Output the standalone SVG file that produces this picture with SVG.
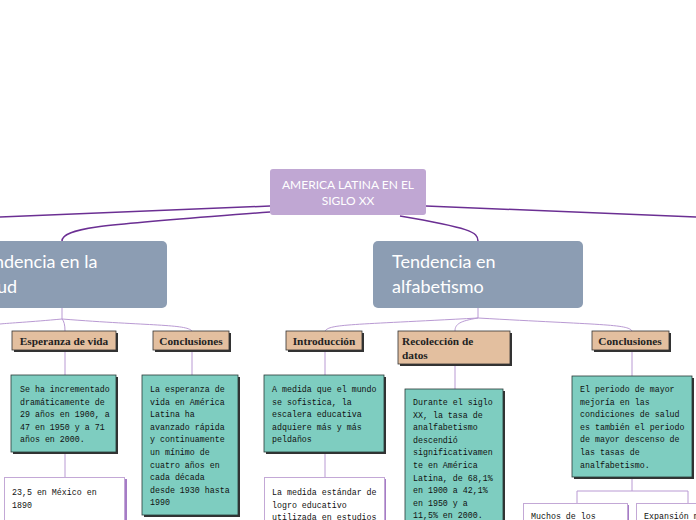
<svg xmlns="http://www.w3.org/2000/svg" width="696" height="520" viewBox="0 0 696 520">
<style>
.main{fill:#8c9db3}
.mt{font-family:Lato,"Open Sans",sans-serif;font-size:18px;fill:#ffffff}
.rt{font-family:Lato,"Open Sans",sans-serif;font-size:12px;fill:#ffffff}
.tan{fill:#e3bf9f;stroke:#333;stroke-width:0.8}
.tt{font-family:"Liberation Serif",serif;font-weight:bold;font-size:11.3px;fill:#222}
.teal{fill:#7ecdc0;stroke:#2a3a37;stroke-width:0.8}
.wh{fill:#ffffff;stroke:#c3a8d6;stroke-width:1}
.sh{fill:#333}
.whs{fill:#a57cc6}
.mono{font-family:"Liberation Mono","DejaVu Sans Mono",monospace;font-size:8.3px;fill:#111}
.c1{fill:none;stroke:#6b2f93;stroke-width:1.5}
.c2{fill:none;stroke:#b99ad3;stroke-width:1}
</style>
<g id="connectors">
<path class="c1" d="M270,206 L0,217"/>
<path class="c1" d="M270,212 C120,224 62,226 62,241"/>
<path class="c1" d="M426,206 L696,217"/>
<path class="c1" d="M400,216 C470,228 478,232 478,241"/>
<path class="c2" d="M62,308 V319"/>
<path class="c2" d="M62,319 C30,322 10,323 0,324"/>
<path class="c2" d="M62,319 Q65,322 65,331"/>
<path class="c2" d="M62,319 C150,326 186,324 192,331"/>
<path class="c2" d="M478,308 V318"/>
<path class="c2" d="M478,318 C350,325 330,324 325,331"/>
<path class="c2" d="M478,318 C460,321 455,324 455,331"/>
<path class="c2" d="M478,318 C600,325 628,324 632,331"/>
<path class="c2" d="M65,350 V375 M65,453 V477"/>
<path class="c2" d="M192,350 V375"/>
<path class="c2" d="M325,350 V375 M325,453 V477"/>
<path class="c2" d="M455,364 V389"/>
<path class="c2" d="M632,350 V376 M632,477 V491 M577,503 V491 H688 V503"/>
</g>
<g id="root">
<rect x="270" y="169" width="156" height="46" rx="3" fill="#c0a7d3"/>
<text class="rt" x="348" y="189" text-anchor="middle">AMERICA LATINA EN EL</text>
<text class="rt" x="348" y="205" text-anchor="middle">SIGLO XX</text>
</g>
<g id="salud">
<rect class="main" x="-43" y="241" width="210" height="67" rx="5"/>
<text class="mt" x="-24" y="268">Tendencia en la</text>
<text class="mt" x="-24" y="293">salud</text>
</g>
<g id="alfabetismo">
<rect class="main" x="373" y="241" width="210" height="67" rx="5"/>
<text class="mt" x="392" y="268">Tendencia en</text>
<text class="mt" x="392" y="293">alfabetismo</text>
</g>
<g id="esperanza">
<rect class="sh" x="14" y="333" width="104" height="19"/>
<rect class="tan" x="12" y="331" width="104" height="19"/>
<text class="tt" x="64" y="344.5" text-anchor="middle">Esperanza de vida</text>
</g>
<g id="conclusiones-salud">
<rect class="sh" x="155" y="333" width="76" height="19"/>
<rect class="tan" x="153" y="331" width="76" height="19"/>
<text class="tt" x="191" y="344.5" text-anchor="middle">Conclusiones</text>
</g>
<g id="introduccion">
<rect class="sh" x="288" y="333" width="76" height="19"/>
<rect class="tan" x="286" y="331" width="76" height="19"/>
<text class="tt" x="324" y="344.5" text-anchor="middle">Introducción</text>
</g>
<g id="recoleccion">
<rect class="sh" x="400" y="333" width="112" height="33"/>
<rect class="tan" x="398" y="331" width="112" height="33"/>
<text class="tt" x="402" y="344.5">Recolección de</text>
<text class="tt" x="402" y="358.5">datos</text>
</g>
<g id="conclusiones-alfa">
<rect class="sh" x="594" y="333" width="77" height="19"/>
<rect class="tan" x="592" y="331" width="77" height="19"/>
<text class="tt" x="630" y="344.5" text-anchor="middle">Conclusiones</text>
</g>
<g id="esperanza-texto">
<rect class="sh" x="13" y="377" width="105" height="77"/>
<rect class="teal" x="11" y="375" width="105" height="77"/>
<text class="mono" x="20" y="392">Se ha incrementado</text>
<text class="mono" x="20" y="404.6">dramáticamente de</text>
<text class="mono" x="20" y="417.2">29 años en 1900, a</text>
<text class="mono" x="20" y="429.8">47 en 1950 y a 71</text>
<text class="mono" x="20" y="442.4">años en 2000.</text>
</g>
<g id="mexico">
<rect class="whs" x="7" y="479" width="120" height="45"/>
<rect class="wh" x="4.5" y="477.5" width="120" height="45"/>
<text class="mono" x="12" y="495">23,5 en México en</text>
<text class="mono" x="12" y="507.6">1890</text>
</g>
<g id="conclusiones-salud-texto">
<rect class="sh" x="144" y="377" width="96" height="140"/>
<rect class="teal" x="142" y="375" width="96" height="140"/>
<text class="mono" x="150" y="392">La esperanza de</text>
<text class="mono" x="150" y="404.6">vida en América</text>
<text class="mono" x="150" y="417.2">Latina ha</text>
<text class="mono" x="150" y="429.8">avanzado rápida</text>
<text class="mono" x="150" y="442.4">y continuamente</text>
<text class="mono" x="150" y="455">un mínimo de</text>
<text class="mono" x="150" y="467.6">cuatro años en</text>
<text class="mono" x="150" y="480.2">cada década</text>
<text class="mono" x="150" y="492.8">desde 1930 hasta</text>
<text class="mono" x="150" y="505.4">1990</text>
</g>
<g id="introduccion-texto">
<rect class="sh" x="266" y="377" width="120" height="77"/>
<rect class="teal" x="264" y="375" width="120" height="77"/>
<text class="mono" x="272" y="392">A medida que el mundo</text>
<text class="mono" x="272" y="404.6">se sofistica, la</text>
<text class="mono" x="272" y="417.2">escalera educativa</text>
<text class="mono" x="272" y="429.8">adquiere más y más</text>
<text class="mono" x="272" y="442.4">peldaños</text>
</g>
<g id="medida">
<rect class="whs" x="266" y="479" width="120" height="45"/>
<rect class="wh" x="264.5" y="477.5" width="120" height="45"/>
<text class="mono" x="272" y="495">La medida estándar de</text>
<text class="mono" x="272" y="507.6">logro educativo</text>
<text class="mono" x="272" y="520">utilizada en estudios</text>
</g>
<g id="recoleccion-texto">
<rect class="sh" x="407" y="391" width="98" height="135"/>
<rect class="teal" x="405" y="389" width="98" height="135"/>
<text class="mono" x="413" y="405">Durante el siglo</text>
<text class="mono" x="413" y="417.6">XX, la tasa de</text>
<text class="mono" x="413" y="430.2">analfabetismo</text>
<text class="mono" x="413" y="442.8">descendió</text>
<text class="mono" x="413" y="455.4">significativamen</text>
<text class="mono" x="413" y="468">te en América</text>
<text class="mono" x="413" y="480.6">Latina, de 68,1%</text>
<text class="mono" x="413" y="493.2">en 1900 a 42,1%</text>
<text class="mono" x="413" y="505.8">en 1950 y a</text>
<text class="mono" x="413" y="518.4">11,5% en 2000.</text>
</g>
<g id="conclusiones-alfa-texto">
<rect class="sh" x="574" y="378" width="120" height="101"/>
<rect class="teal" x="572" y="376" width="120" height="101"/>
<text class="mono" x="580" y="392">El periodo de mayor</text>
<text class="mono" x="580" y="404.6">mejoría en las</text>
<text class="mono" x="580" y="417.2">condiciones de salud</text>
<text class="mono" x="580" y="429.8">es también el periodo</text>
<text class="mono" x="580" y="442.4">de mayor descenso de</text>
<text class="mono" x="580" y="455">las tasas de</text>
<text class="mono" x="580" y="467.6">analfabetismo.</text>
</g>
<g id="muchos">
<rect class="whs" x="525" y="505" width="104" height="30"/>
<rect class="wh" x="523.5" y="503.5" width="104" height="30"/>
<text class="mono" x="531" y="519">Muchos de los</text>
</g>
<g id="expansion">
<rect class="whs" x="638" y="505" width="104" height="30"/>
<rect class="wh" x="636.5" y="503.5" width="104" height="30"/>
<text class="mono" x="644" y="519">Expansión m</text>
</g>
</svg>
